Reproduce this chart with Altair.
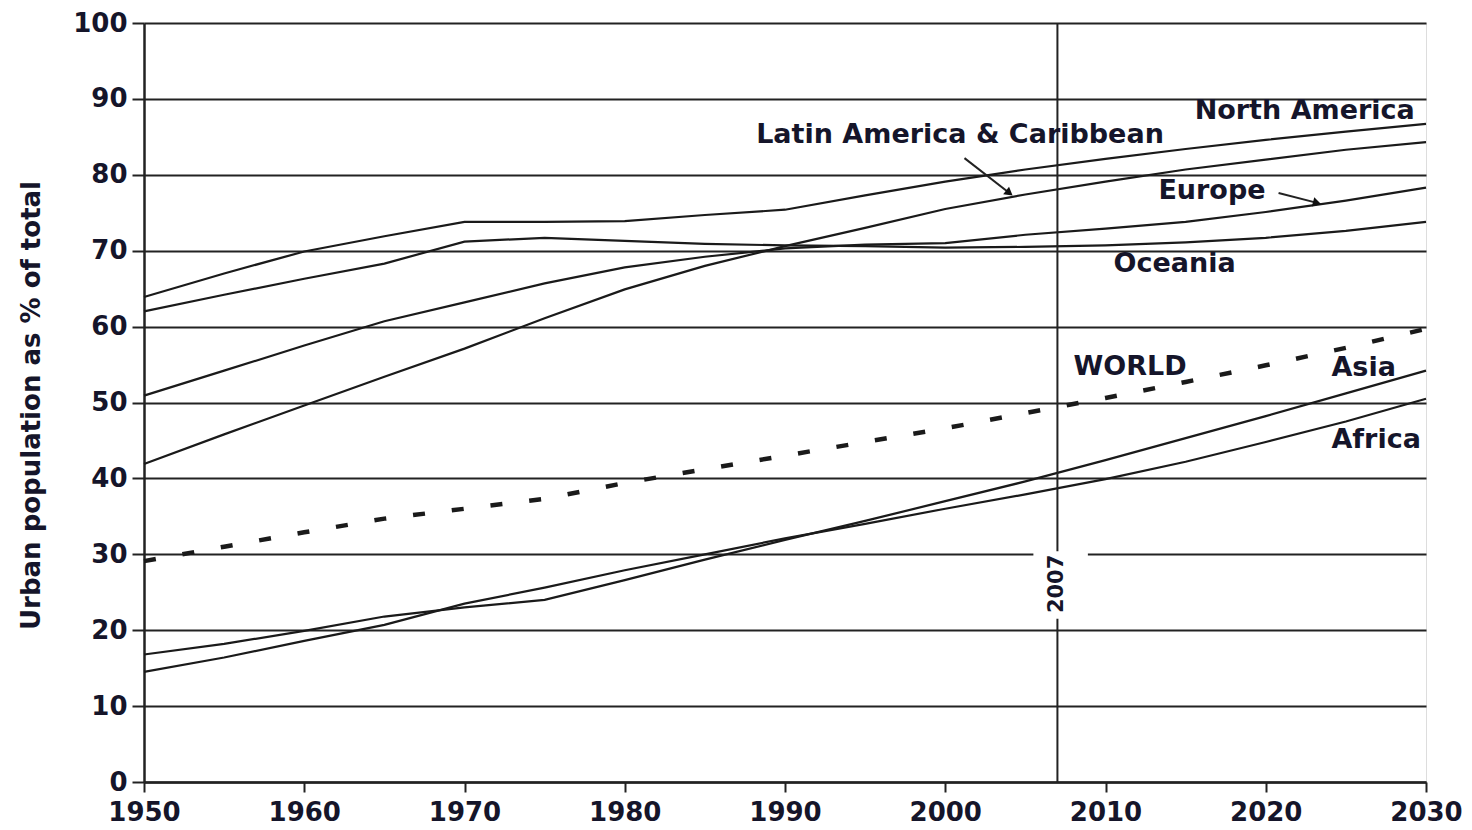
import altair as alt
import pandas as pd

years = [1950, 1955, 1960, 1965, 1970, 1975, 1980, 1985, 1990, 1995,
         2000, 2005, 2010, 2015, 2020, 2025, 2030]

north_america = [63.9, 67.0, 69.9, 71.9, 73.8, 73.8, 73.9, 74.7, 75.4, 77.3,
                 79.1, 80.7, 82.1, 83.4, 84.6, 85.7, 86.7]
latin_america = [41.9, 45.8, 49.6, 53.4, 57.1, 61.1, 64.9, 68.0, 70.6, 73.0,
                 75.5, 77.4, 79.1, 80.7, 82.0, 83.3, 84.3]
europe = [50.9, 54.2, 57.5, 60.7, 63.2, 65.7, 67.8, 69.2, 70.3, 70.8,
          71.0, 72.1, 72.9, 73.8, 75.1, 76.6, 78.3]
oceania = [62.0, 64.2, 66.3, 68.3, 71.2, 71.7, 71.3, 70.9, 70.7, 70.6,
           70.4, 70.5, 70.7, 71.1, 71.7, 72.6, 73.8]
asia = [16.8, 18.2, 19.9, 21.8, 23.0, 24.0, 26.6, 29.3, 31.9, 34.4,
        37.0, 39.6, 42.4, 45.3, 48.2, 51.2, 54.2]
africa = [14.5, 16.4, 18.6, 20.7, 23.5, 25.6, 27.9, 30.0, 32.1, 34.0,
          36.0, 37.9, 39.9, 42.2, 44.8, 47.5, 50.5]
world = [29.1, 31.0, 32.9, 34.7, 36.0, 37.3, 39.4, 41.2, 43.0, 44.8,
         46.6, 48.6, 50.6, 52.7, 54.9, 57.2, 59.7]

regions = {
    "North America": north_america,
    "Latin America & Caribbean": latin_america,
    "Europe": europe,
    "Oceania": oceania,
    "Asia": asia,
    "Africa": africa,
}

# annotation labels
label_text = ["North America", "Latin America & Caribbean", "Europe", "Oceania", "WORLD", "Asia", "Africa"]
label_x = [2029.3, 1988.2, 2013.3, 2010.5, 2008.0, 2024.1, 2024.1]
label_y = [88.4, 85.3, 77.9, 68.2, 54.7, 54.5, 45.0]
label_align = ["right", "left", "left", "left", "left", "left", "left"]

# arrows (start -> end), head angle
arrow_x1 = [2001.2, 2020.8]
arrow_y1 = [82.2, 77.6]
arrow_x2 = [2004.0, 2023.2]
arrow_y2 = [77.6, 76.3]
arrow_angle = [128, 105]

marker_year = [2007]
marker_box_x = [2005.5]
marker_box_x2 = [2008.9]
marker_box_y = [21.5]
marker_box_y2 = [30.4]
marker_label_y = [26.1]

y_ticks = list(range(0, 101, 10))
x_ticks = list(range(1950, 2031, 10))

rows = []
for name, vals in regions.items():
    for yr, v in zip(years, vals):
        rows.append({"region": name, "year": yr, "value": v})
df = pd.DataFrame(rows)
df_world = pd.DataFrame({"year": years, "value": world})

FONT = "DejaVu Sans"
TXT = "#15152a"
LINE = "#1a1a1a"
YTITLE = "Urban population as % of total"

xscale = alt.Scale(domain=[1950, 2030], nice=False, zero=False)
yscale = alt.Scale(domain=[0, 100], nice=False)

x_axis = alt.Axis(values=x_ticks, format="d", grid=False, tickSize=10, tickWidth=2,
                  tickColor="#222", domainColor="#222", domainWidth=2.5,
                  labelFont=FONT, labelFontSize=26, labelFontWeight="bold",
                  labelColor=TXT, labelPadding=7, labelFlush=False)
y_axis = alt.Axis(values=y_ticks, grid=True, gridColor="#222", gridWidth=2,
                  tickSize=12, tickWidth=2, tickColor="#222",
                  domainColor="#222", domainWidth=2.5,
                  labelFont=FONT, labelFontSize=26, labelFontWeight="bold",
                  labelColor=TXT, labelPadding=5,
                  titleFont=FONT, titleFontSize=26, titleFontWeight="bold",
                  titleColor=TXT, titleX=-113, titleY=382, titleAngle=270,
                  titleAlign="center", titleBaseline="middle")


def X(field):
    return alt.X(field, scale=xscale, title=None)


def Y(field):
    return alt.Y(field, scale=yscale, title=YTITLE)


lines = alt.Chart(df).mark_line(color=LINE, strokeWidth=2.2).encode(
    x=alt.X("year:Q", scale=xscale, axis=x_axis, title=None),
    y=alt.Y("value:Q", scale=yscale, axis=y_axis, title=YTITLE),
    detail="region:N",
)

world_line = alt.Chart(df_world).mark_line(
    color=LINE, strokeWidth=4.5, strokeDash=[12, 27]
).encode(x=X("year:Q"), y=Y("value:Q"))

vrule = alt.Chart(pd.DataFrame({"year": marker_year})).mark_rule(
    color="#222", strokeWidth=2
).encode(x=X("year:Q"))

box = alt.Chart(pd.DataFrame({"x": marker_box_x, "x2": marker_box_x2,
                              "y": marker_box_y, "y2": marker_box_y2})).mark_rect(
    color="white"
).encode(x=X("x:Q"), x2="x2:Q", y=Y("y:Q"), y2="y2:Q")

marker_text = alt.Chart(pd.DataFrame({"year": marker_year, "y": marker_label_y,
                                      "t": [str(v) for v in marker_year]})).mark_text(
    angle=270, align="center", baseline="middle", font=FONT, fontSize=21,
    fontWeight="bold", color=TXT
).encode(x=X("year:Q"), y=Y("y:Q"), text="t:N")

df_labels = pd.DataFrame({"t": label_text, "x": label_x, "y": label_y, "a": label_align})
label_layers = []
for al in ["left", "right"]:
    sub = df_labels[df_labels["a"] == al]
    label_layers.append(
        alt.Chart(sub).mark_text(
            align=al, baseline="middle", font=FONT, fontSize=27,
            fontWeight="bold", color=TXT
        ).encode(x=X("x:Q"), y=Y("y:Q"), text="t:N")
    )

df_arrows = pd.DataFrame({"x1": arrow_x1, "y1": arrow_y1, "x2": arrow_x2,
                          "y2": arrow_y2, "ang": arrow_angle})
arrow_shafts = alt.Chart(df_arrows).mark_rule(color="#222", strokeWidth=2).encode(
    x=X("x1:Q"), x2="x2:Q", y=Y("y1:Q"), y2="y2:Q",
)
arrow_heads = alt.Chart(df_arrows).mark_point(
    shape="triangle-up", filled=True, color="#111", size=90, opacity=1
).encode(
    x=X("x2:Q"), y=Y("y2:Q"),
    angle=alt.Angle("ang:Q", scale=None),
)

chart = alt.layer(
    lines, world_line, vrule, box, marker_text, *label_layers, arrow_shafts, arrow_heads
).properties(
    width=1282, height=759,
    autosize=alt.AutoSizeParams(type="none"),
    padding={"left": 136, "top": 15, "right": 36, "bottom": 46},
).configure_view(
    stroke="#888", strokeWidth=1.5
).configure(background="white")

chart.save("out.html", embed_options={"renderer": "svg", "actions": False})
